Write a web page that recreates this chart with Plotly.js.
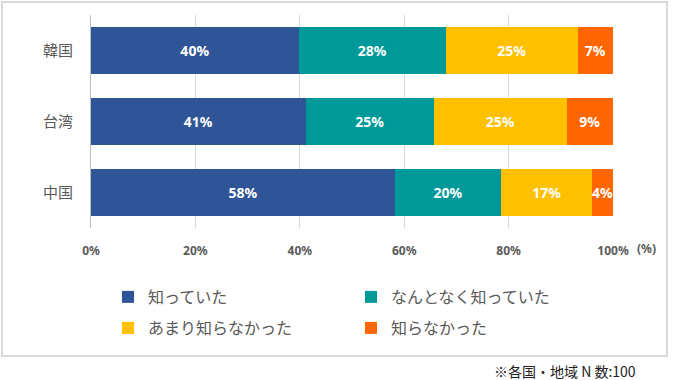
<!DOCTYPE html>
<html>
<head>
<meta charset="utf-8">
<script src="https://cdn.plot.ly/plotly-3.0.1.min.js"></script>
<style>
html,body{margin:0;padding:0;background:#fff;}
#chart{width:674px;height:380px;}
</style>
</head>
<body>
<div id="chart"></div>
<script>
const categories = ['韓国', '台湾', '中国'];
const seriesNames = ['知っていた', 'なんとなく知っていた', 'あまり知らなかった', '知らなかった'];
const knew = [39.8, 41.1, 58.2];
const somewhatKnew = [28.2, 24.6, 20.4];
const barelyKnew = [25.2, 25.4, 17.4];
const didNotKnow = [6.8, 8.9, 4.0];
const tickValues = [0, 20, 40, 60, 80, 100];
const tickLabels = ['0%', '20%', '40%', '60%', '80%', '100%'];
const colors = ['#2F5597', '#009999', '#FFC000', '#FF6600'];

const seriesValues = [knew, somewhatKnew, barelyKnew, didNotKnow];
const legendOf = ['legend', 'legend', 'legend2', 'legend2'];
const CJK = '"Noto Sans CJK JP", "Noto Sans", sans-serif';

const traces = seriesValues.map((vals, i) => ({
  type: 'bar',
  orientation: 'h',
  name: seriesNames[i],
  legend: legendOf[i],
  y: categories,
  x: vals,
  marker: {color: colors[i], line: {width: 0}},
  texttemplate: '%{x:.0f}%',
  textposition: 'inside',
  insidetextanchor: 'middle',
  textangle: 0,
  constraintext: 'none',
  textfont: {color: '#ffffff', size: 14, family: '"Noto Sans", sans-serif', weight: 'bold'},
  hoverinfo: 'skip'
}));

// plot area geometry (px) for paper-ref shapes
const L = 91, R = 61, T = 15, B = 152, W = 674, H = 380;
const pw = W - L - R, ph = H - T - B;
const px = v => (v - L) / pw;
const py = v => (H - B - v) / ph;

const legendBase = {
  orientation: 'h',
  xanchor: 'left',
  yanchor: 'middle',
  entrywidth: 198,
  entrywidthmode: 'pixels',
  traceorder: 'normal',
  font: {size: 16, color: '#595959', family: CJK},
  itemwidth: 30,
  bgcolor: 'rgba(0,0,0,0)'
};

const layout = {
  width: W, height: H,
  margin: {l: L, r: R, t: T, b: B, autoexpand: false},
  paper_bgcolor: '#ffffff',
  plot_bgcolor: '#ffffff',
  barmode: 'stack',
  bargap: 0.34,
  showlegend: true,
  xaxis: {
    range: [0, 100],
    tickvals: tickValues,
    ticktext: tickLabels,
    showgrid: true,
    gridcolor: '#d9d9d9',
    gridwidth: 1,
    zeroline: false,
    showline: false,
    ticks: '',
    ticklabelstandoff: 14,
    tickfont: {size: 12, color: '#595959', family: '"Noto Sans", sans-serif', weight: 'bold'},
    fixedrange: true
  },
  yaxis: {
    autorange: 'reversed',
    showgrid: false,
    zeroline: false,
    showline: true,
    linecolor: '#bfbfbf',
    linewidth: 1,
    ticks: '',
    ticklabelstandoff: 14,
    tickfont: {size: 15, color: '#595959', family: CJK},
    fixedrange: true
  },
  legend: Object.assign({}, legendBase, {x: px(108), y: py(297)}),
  legend2: Object.assign({}, legendBase, {x: px(108), y: py(328)}),
  shapes: [{
    type: 'rect', xref: 'paper', yref: 'paper',
    x0: px(2), x1: px(667), y0: py(2), y1: py(356),
    line: {color: '#d9d9d9', width: 2},
    fillcolor: 'rgba(0,0,0,0)', layer: 'below'
  }],
  annotations: [
    {
      text: '(%)', xref: 'paper', yref: 'paper',
      x: px(646), y: py(248), xanchor: 'center', yanchor: 'middle',
      showarrow: false,
      font: {size: 12, color: '#595959', family: '"Noto Sans", sans-serif', weight: 'bold'}
    },
    {
      text: '※各国・地域 N 数:100', xref: 'paper', yref: 'paper',
      x: px(638), y: py(371), xanchor: 'right', yanchor: 'middle',
      showarrow: false,
      font: {size: 14, color: '#222222', family: CJK}
    }
  ]
};

Plotly.newPlot('chart', traces, layout, {staticPlot: true, displayModeBar: false});
</script>
</body>
</html>
